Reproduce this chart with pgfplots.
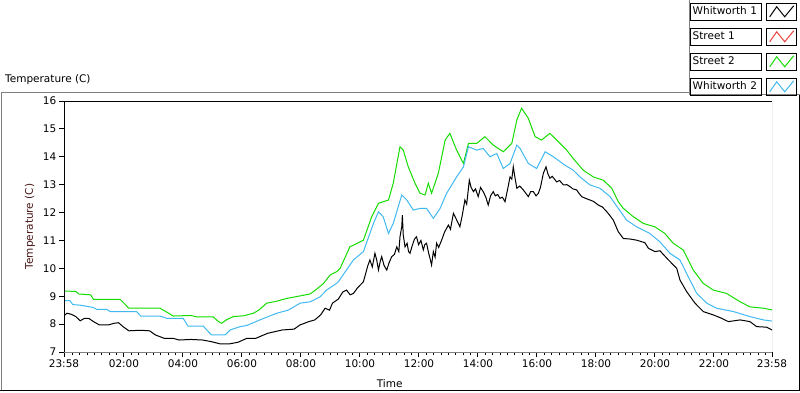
\documentclass[border=0pt]{standalone}
\usepackage{pgfplots}
\pgfplotsset{compat=1.18}
\usepackage{fontspec}
\setmainfont{DejaVu Sans}
\definecolor{sgreen}{RGB}{20,220,0}
\definecolor{wblue}{RGB}{64,184,240}
\definecolor{sred}{RGB}{240,60,60}
\definecolor{framegray}{RGB}{128,128,128}
\definecolor{ylab}{RGB}{70,20,20}

\pgfplotstableread{
h T
0 9.19
0.4 9.17
0.5 9.08
0.9 9.05
1.0 8.89
1.9 8.89
2.2 8.57
3.25 8.57
3.5 8.42
3.7 8.29
4.3 8.31
4.5 8.26
5.06 8.26
5.2 8.12
5.34 8.03
5.5 8.15
5.74 8.27
6.1 8.30
6.42 8.39
6.6 8.5
6.87 8.75
7.2 8.82
7.55 8.92
8.34 9.08
8.5 9.2
8.79 9.45
9.02 9.76
9.24 9.88
9.36 10.0
9.69 10.77
10.15 11.01
10.43 11.85
10.66 12.33
11.0 12.45
11.16 13.05
11.39 14.36
11.5 14.24
11.67 13.64
11.9 13.05
12.07 12.69
12.24 12.63
12.35 13.05
12.46 12.69
12.69 13.41
12.92 14.6
13.08 14.84
13.31 14.24
13.54 13.76
13.71 14.48
13.99 14.48
14.27 14.72
14.55 14.42
14.89 14.18
15.18 14.48
15.35 15.32
15.51 15.74
15.74 15.38
15.97 14.72
16.19 14.6
16.47 14.84
16.7 14.6
17.04 14.24
17.26 13.94
17.6 13.52
17.94 13.28
18.28 13.16
18.57 12.87
18.79 12.39
18.96 12.15
19.3 11.85
19.64 11.61
20.03 11.49
20.37 11.25
20.65 10.9
20.99 10.66
21.33 9.94
21.67 9.46
22.01 9.22
22.46 9.1
22.92 8.8
23.25 8.62
23.71 8.57
24.0 8.51
}\streettwo

\pgfplotstableread{
h T
0 8.84
0.2 8.84
0.3 8.7
0.54 8.68
0.99 8.6
1.1 8.53
1.45 8.53
1.56 8.45
2.46 8.45
2.6 8.29
3.25 8.29
3.48 8.21
4.04 8.21
4.2 7.93
4.72 7.93
4.84 7.79
5.0 7.61
5.46 7.61
5.63 7.79
5.97 7.91
6.19 7.95
6.64 8.15
7.21 8.39
7.6 8.5
8.0 8.75
8.34 8.8
8.68 8.98
8.9 9.22
9.24 9.46
9.3 9.52
9.81 10.3
10.15 10.6
10.49 11.61
10.66 12.03
10.82 11.85
11.0 11.25
11.16 11.61
11.45 12.63
11.62 12.45
11.84 12.09
12.07 12.15
12.29 12.15
12.52 11.79
12.75 12.15
12.97 12.69
13.31 13.28
13.54 13.64
13.71 14.36
13.99 14.24
14.21 14.3
14.44 14.0
14.67 14.12
14.89 13.58
15.12 13.76
15.35 14.42
15.46 14.3
15.74 13.76
16.02 13.58
16.31 14.18
16.59 14.0
16.98 13.7
17.26 13.52
17.49 13.28
17.83 12.99
18.17 12.87
18.51 12.57
18.79 12.15
19.07 11.73
19.41 11.49
19.86 11.25
20.2 10.95
20.54 10.54
20.88 10.3
21.16 9.7
21.45 9.1
21.79 8.75
22.12 8.57
22.69 8.45
23.25 8.27
23.71 8.15
24 8.11
}\whitworthtwo

\pgfplotstableread{
h T
0 8.3
0.1 8.39
0.25 8.35
0.4 8.27
0.55 8.12
0.7 8.21
0.85 8.2
1.0 8.09
1.2 7.97
1.5 7.97
1.7 8.03
1.85 8.05
2.0 7.91
2.2 7.76
2.6 7.78
2.9 7.76
3.1 7.61
3.4 7.49
3.7 7.49
3.9 7.43
4.3 7.45
4.7 7.43
5.0 7.37
5.3 7.29
5.6 7.29
5.9 7.35
6.2 7.49
6.5 7.49
6.9 7.67
7.4 7.79
7.8 7.82
8.0 7.97
8.3 8.09
8.5 8.15
8.7 8.33
8.85 8.57
9.0 8.5
9.1 8.75
9.3 8.9
9.45 9.15
9.58 9.22
9.7 9.05
9.81 9.1
9.95 9.3
10.15 9.52
10.3 10.1
10.37 10.3
10.45 10.05
10.54 10.54
10.6 10.3
10.66 9.94
10.72 10.25
10.77 10.42
10.85 10.1
10.94 9.94
11.02 10.2
11.11 10.42
11.2 10.5
11.28 10.77
11.35 10.6
11.39 11.13
11.45 11.5
11.47 11.91
11.5 11.2
11.56 10.77
11.63 10.9
11.68 10.6
11.73 10.54
11.8 10.8
11.88 11.05
11.95 11.13
12.02 10.85
12.1 11.0
12.18 10.66
12.23 10.85
12.29 10.9
12.36 10.55
12.42 10.3
12.46 10.12
12.52 10.6
12.58 10.4
12.63 10.9
12.7 10.75
12.8 11.01
12.9 11.3
13.03 11.55
13.1 11.4
13.2 11.97
13.28 11.8
13.35 11.65
13.42 11.49
13.5 11.9
13.59 12.45
13.65 12.3
13.74 13.16
13.8 12.9
13.88 12.75
13.95 12.85
14.04 12.57
14.12 12.9
14.21 12.75
14.3 12.55
14.38 12.27
14.46 12.6
14.55 12.75
14.62 12.6
14.7 12.65
14.78 12.51
14.86 12.55
14.95 12.39
15.05 12.9
15.12 13.28
15.18 13.2
15.23 13.64
15.28 13.3
15.35 12.87
15.45 12.95
15.57 12.81
15.65 12.7
15.74 12.57
15.82 12.75
15.91 12.75
16.0 12.6
16.08 12.69
16.15 12.9
16.25 13.41
16.34 13.64
16.4 13.4
16.47 13.23
16.55 13.3
16.7 13.1
16.8 13.15
16.93 12.99
17.05 13.0
17.15 12.93
17.25 12.85
17.38 12.81
17.45 12.7
17.55 12.57
17.7 12.5
17.83 12.45
17.95 12.4
18.11 12.27
18.25 12.2
18.4 12.03
18.5 11.9
18.62 11.73
18.79 11.31
18.96 11.07
19.2 11.05
19.41 11.01
19.69 10.92
19.81 10.72
20.03 10.6
20.2 10.63
20.49 10.3
20.77 10.0
20.88 9.58
21.11 9.16
21.39 8.75
21.67 8.45
22.01 8.33
22.29 8.21
22.52 8.09
22.92 8.15
23.25 8.09
23.48 7.91
23.82 7.89
24.0 7.79
}\whitworthone

\begin{document}
\fontsize{10.5}{12.5}\selectfont
\begin{tikzpicture}
\path[use as bounding box] (0pt,0pt) rectangle (800pt,392pt);
% panel frame
\draw[framegray, line width=1pt] (1pt,1.5pt) -- (1pt,300pt) -- (689pt,300pt);
\draw[framegray, line width=1pt] (689pt,392pt) -- (689pt,297.5pt) -- (800pt,297.5pt);
\draw[black, line width=1pt] (799pt,297pt) -- (799pt,1.5pt) -- (0pt,1.5pt);
\node[anchor=west, inner sep=0pt] at (5pt,312pt) {Temperature (C)};

\begin{axis}[
  at={(64pt,40pt)}, anchor=south west,
  scale only axis, width=708pt, height=251pt,
  xmin=0, xmax=24, ymin=7, ymax=16,
  axis line style={draw=none},
  tick align=outside,
  xtick pos=bottom, ytick pos=left,
  major tick length=5pt, minor tick length=2.5pt,
  tick style={black, line width=1pt},
  ytick={7,8,...,16},
  xtick={0,2.0333,4.0333,6.0333,8.0333,10.0333,12.0333,14.0333,16.0333,18.0333,20.0333,22.0333,24},
  xticklabels={23:58,02:00,04:00,06:00,08:00,10:00,12:00,14:00,16:00,18:00,20:00,22:00,23:58},
  minor xtick={0.2833,0.5333,...,23.8},
  /pgf/number format/assume math mode=true,
  ticklabel style={font=\fontsize{10.5}{12.5}\selectfont, black},
  yticklabel style={xshift=1pt},
  xticklabel style={yshift=1pt},
  xlabel={Time},
  xlabel style={at={(axis description cs:0.46,-0.125)}, anchor=center, font=\fontsize{10.5}{12.5}\selectfont},
  ylabel={Temperature (C)},
  ylabel style={at={(axis description cs:-0.048,0.5)}, anchor=center, font=\fontsize{10.5}{12.5}\selectfont, text=ylab},
  legend plot pos=right,
  legend cell align=left,
  legend style={at={(axis description cs:1.0356,1.3904)}, anchor=north east,
    draw=none, fill=none, inner sep=0pt, outer sep=0pt,
    /tikz/row sep=7.5pt, /tikz/column sep=4pt,
    nodes={draw=black, line width=1pt, text width=67pt, align=left, inner xsep=2pt, inner ysep=0pt, minimum height=16.5pt, font=\fontsize{10.5}{12.5}\selectfont}},
  legend image code/.code={%
    \draw[black, solid, line width=1pt] (0pt,-8.25pt) rectangle (30pt,8.25pt);
    \draw[#1, line width=1pt] (3pt,-5pt) -- (10pt,5pt) -- (18pt,-5pt) -- (27pt,6pt);},
  clip=true,
]
\addplot[black, line width=1pt] table[x=h,y=T] {\whitworthone};
\addlegendentry{Whitworth 1}
\addlegendimage{sred, line width=1pt}
\addlegendentry{Street 1}
\addplot[sgreen, line width=1pt] table[x=h,y=T] {\streettwo};
\addlegendentry{Street 2}
\addplot[wblue, line width=1pt] table[x=h,y=T] {\whitworthtwo};
\addlegendentry{Whitworth 2}
\draw[black, line width=1pt] (rel axis cs:0,0) -- (rel axis cs:0,1) -- (rel axis cs:1,1);
\draw[framegray, line width=1pt] (rel axis cs:1,1) -- (rel axis cs:1,0) -- (rel axis cs:0,0);
\end{axis}
\end{tikzpicture}
\end{document}
